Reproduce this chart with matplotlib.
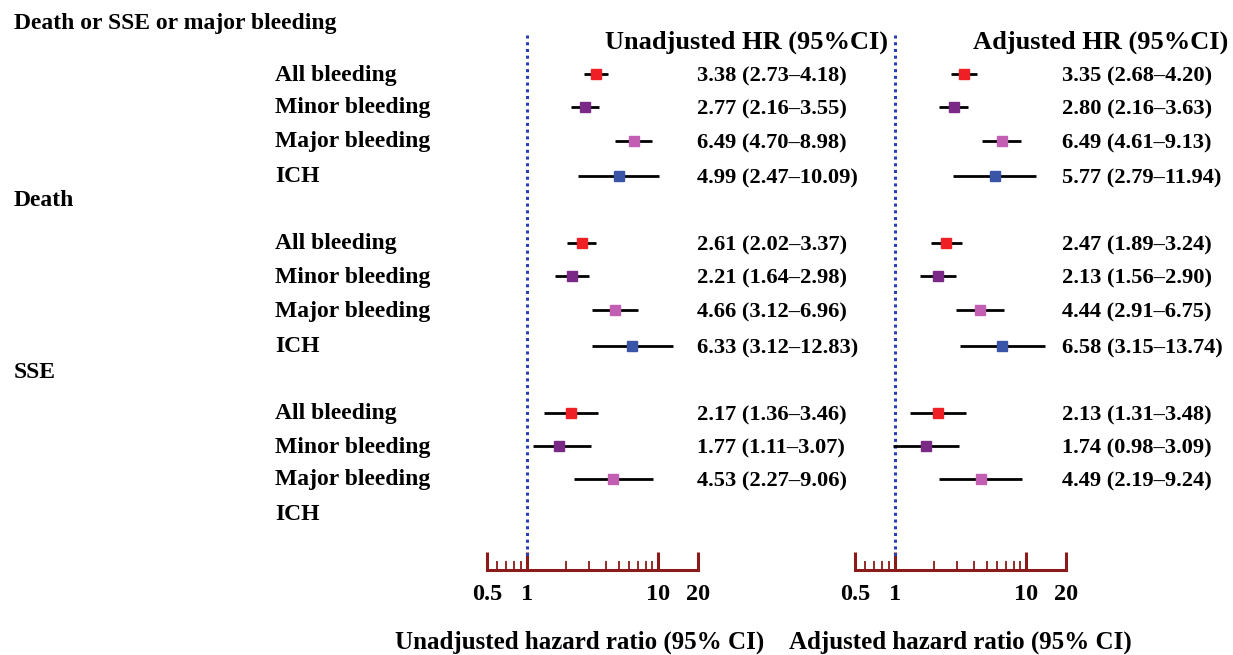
import numpy as np
import matplotlib.pyplot as plt
from matplotlib.transforms import blended_transform_factory
from matplotlib.ticker import FixedLocator, NullFormatter

plt.rcParams['font.family'] = ['Liberation Serif', 'DejaVu Serif']
plt.rcParams['font.weight'] = 'bold'

groups = ['Death or SSE or major bleeding', 'Death', 'SSE']
subgroups = ['All bleeding', 'Minor bleeding', 'Major bleeding', 'ICH']
colors = ['#ee2026', '#7a2a86', '#c35fb3', '#3a55a8']

# unadjusted HR, lower, upper (None = not estimable)
unadj_hr = [3.38, 2.77, 6.49, 4.99, 2.61, 2.21, 4.66, 6.33, 2.17, 1.77, 4.53, None]
unadj_lo = [2.73, 2.16, 4.70, 2.47, 2.02, 1.64, 3.12, 3.12, 1.36, 1.11, 2.27, None]
unadj_hi = [4.18, 3.55, 8.98, 10.09, 3.37, 2.98, 6.96, 12.83, 3.46, 3.07, 9.06, None]
# adjusted
adj_hr = [3.35, 2.80, 6.49, 5.77, 2.47, 2.13, 4.44, 6.58, 2.13, 1.74, 4.49, None]
adj_lo = [2.68, 2.16, 4.61, 2.79, 1.89, 1.56, 2.91, 3.15, 1.31, 0.98, 2.19, None]
adj_hi = [4.20, 3.63, 9.13, 11.94, 3.24, 2.90, 6.75, 13.74, 3.48, 3.09, 9.24, None]

# vertical layout (pixel rows, top = 0)
group_y = [23, 200, 373]
row_y = [74, 107, 141, 176, 243, 276, 310, 346, 413, 446, 479, 514]

W, H = 1233, 655
fig = plt.figure(figsize=(W / 100, H / 100), dpi=100)
fs = 16.2
axis_col = '#8b1a1a'

def panel(x0, hr, lo, hi, text_x, header, header_x, xlabel, xlabel_x):
    ax = fig.add_axes([x0 / W, (H - 570) / H, 211 / W, 570 / H])
    ax.set_xscale('log')
    ax.set_xlim(0.5, 20)
    ax.set_ylim(570, 0)
    ax.patch.set_alpha(0)
    for s in ['left', 'top', 'right']:
        ax.spines[s].set_visible(False)
    ax.spines['bottom'].set_color(axis_col)
    ax.spines['bottom'].set_linewidth(2.2)
    ax.set_yticks([])
    ax.xaxis.set_major_locator(FixedLocator([0.5, 1, 10, 20]))
    ax.xaxis.set_minor_locator(FixedLocator([0.6, 0.7, 0.8, 0.9, 2, 3, 4, 5, 6, 7, 8, 9]))
    ax.xaxis.set_minor_formatter(NullFormatter())
    ax.set_xticklabels(['0.5', '1', '10', '20'], fontsize=17.5, fontweight='bold')
    ax.tick_params(axis='x', which='major', direction='in', length=13, width=2.2,
                   color=axis_col, pad=10)
    ax.tick_params(axis='x', which='minor', direction='in', length=6.5, width=1.3,
                   color=axis_col)
    ax.plot([1, 1], [35, 556], color='#2b3fb5', ls=(0, (1, 1.2)), lw=2.2)
    tr = blended_transform_factory(fig.transFigure, ax.transData)
    for i, y in enumerate(row_y):
        if hr[i] is None:
            continue
        ax.plot([lo[i], hi[i]], [y, y], color='black', lw=2, solid_capstyle='butt', zorder=2)
        ax.plot(hr[i], y, marker='s', ms=7.5, color=colors[i % 4], mec=colors[i % 4], zorder=3)
        ax.text(text_x / W, y + 2, f'{hr[i]:.2f} ({lo[i]:.2f}\u2013{hi[i]:.2f})', transform=tr,
                ha='left', va='center', fontsize=fs, fontweight='bold', clip_on=False)
    ax.text(header_x / W, 42, header, transform=tr, ha='left', va='center',
            fontsize=19, fontweight='bold')
    fig.text(xlabel_x / W, 1 - 642 / H, xlabel, ha='center', va='center',
             fontsize=18, fontweight='bold')
    return ax

ax1 = panel(487, unadj_hr, unadj_lo, unadj_hi, 697, 'Unadjusted HR (95%CI)', 605,
            'Unadjusted hazard ratio (95% CI)', 580)
ax2 = panel(855, adj_hr, adj_lo, adj_hi, 1062, 'Adjusted HR (95%CI)', 973,
            'Adjusted hazard ratio (95% CI)', 960)

tr = blended_transform_factory(fig.transFigure, ax1.transData)
for g, y in zip(groups, group_y):
    ax1.text(14 / W, y, g, transform=tr, ha='left', va='center', fontsize=17,
             fontweight='bold')
for i, y in enumerate(row_y):
    ax1.text(275 / W, y + 1, subgroups[i % 4], transform=tr, ha='left', va='center',
             fontsize=17, fontweight='bold')

fig.savefig('out.png', dpi=100)
